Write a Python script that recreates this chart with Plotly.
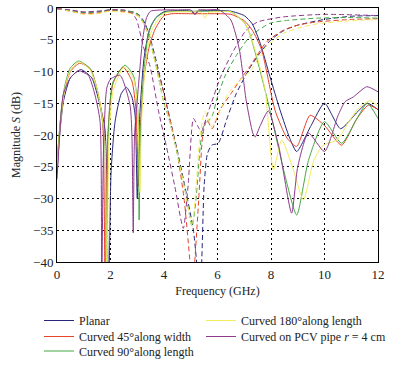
import plotly.graph_objects as go

# ---------------- data ----------------
names = ["Planar", "Curved 45°along width", "Curved 90°along length",
         "Curved 180°along length", "Curved on PCV pipe <i>r</i> = 4 cm"]
colors = ["#26267a", "#e5432b", "#45a845", "#f2ec5c", "#8e3b8c"]

# solid curves (transmission-like)
planar_s_f = [0, 0.12, 0.25, 0.5, 0.89, 1.3, 1.54, 1.79, 1.93, 2.02, 2.17, 2.4, 2.6, 2.8, 2.92, 3.0, 3.08, 3.25, 3.45, 3.7, 4.0, 4.5, 5.0, 5.16, 5.3, 6.0, 6.5, 7.0, 7.3, 7.6, 7.96, 8.34, 8.7, 8.96, 9.5, 10.0, 10.6, 11.2, 11.6, 12.0]
planar_s_v = [-26, -19, -14.5, -11, -9.7, -11, -14.2, -19, -45, -26, -17.9, -13.5, -12.5, -14, -16.9, -30, -18, -8, -3.5, -1.5, -0.6, -0.4, -0.5, -1.0, -0.5, -0.4, -0.5, -1.2, -2.5, -5.6, -10.8, -16.1, -20.5, -22.6, -18.5, -15.0, -19, -16.5, -15, -16]

c45_s_f = [0, 0.12, 0.25, 0.5, 0.85, 1.25, 1.5, 1.7, 1.8, 1.9, 2.1, 2.47, 2.8, 2.95, 3.05, 3.1, 3.25, 3.45, 3.65, 3.85, 4.0, 4.3, 5.0, 5.5, 6.0, 6.5, 7.0, 7.3, 7.65, 8.15, 8.6, 8.96, 9.46, 10.0, 10.64, 11.2, 11.64, 12.0]
c45_s_v = [-25, -18, -13.5, -10, -8.7, -9.6, -12.8, -17.5, -45, -20, -11.8, -9.3, -11.5, -16, -28, -20, -11, -6, -3.5, -2, -1.2, -0.9, -0.9, -0.9, -0.9, -1.0, -2.0, -3.5, -6.6, -16.1, -20.5, -21.8, -16.9, -18.5, -21.6, -17.5, -15.3, -16]

c90_s_f = [0, 0.1, 0.18, 0.3, 0.49, 0.8, 1.23, 1.48, 1.67, 1.79, 1.84, 1.9, 1.98, 2.1, 2.54, 2.85, 2.98, 3.04, 3.07, 3.12, 3.25, 3.4, 3.55, 3.72, 4.0, 4.5, 5.0, 5.5, 6.0, 6.5, 7.0, 7.2, 7.6, 7.96, 8.5, 8.96, 9.4, 10.0, 10.64, 11.2, 11.6, 12.0]
c90_s_v = [-24, -19, -15.3, -12.1, -9.5, -8.35, -9.5, -12.6, -16.9, -21.6, -45, -22, -14.75, -11.6, -9.0, -10.6, -13.7, -17.9, -33.4, -20, -10, -4.5, -2.5, -1.5, -0.7, -0.5, -0.5, -0.5, -0.5, -0.6, -2.3, -4, -10, -16.1, -26, -32.6, -24, -17.9, -21.3, -17.5, -15, -17.4]

c180_s_f = [0, 0.1, 0.2, 0.3, 0.5, 0.82, 1.23, 1.5, 1.7, 1.8, 1.86, 1.95, 2.1, 2.5, 2.85, 3.0, 3.1, 3.16, 3.3, 3.5, 3.7, 3.9, 4.1, 4.5, 5.0, 5.4, 5.53, 5.65, 6.0, 6.5, 7.0, 7.2, 7.5, 7.78, 8.09, 8.4, 8.8, 9.21, 9.6, 9.96, 10.46, 10.9, 11.27, 11.7, 12.0]
c180_s_v = [-25, -19.5, -15.5, -12.5, -9.8, -8.5, -9.7, -12.8, -17.5, -22, -45, -20, -13, -9.3, -11, -15, -29, -18, -9, -4, -2.3, -1.2, -0.7, -0.6, -0.6, -0.7, -1.6, -0.7, -0.6, -0.6, -2.3, -4, -8, -12.9, -25.5, -20.8, -25, -30.2, -24, -21.6, -20.8, -18, -15.8, -14.6, -15.5]

pcv_s_f = [0, 0.1, 0.24, 0.5, 0.8, 1.17, 1.42, 1.61, 1.67, 1.74, 1.86, 2.0, 2.36, 2.73, 2.8, 2.85, 2.9, 3.05, 3.2, 3.35, 3.5, 4.0, 4.5, 5.0, 5.16, 5.3, 5.6, 6.07, 6.5, 6.82, 7.07, 7.32, 7.41, 7.6, 7.9, 8.3, 8.77, 9.0, 9.4, 10.0, 10.5, 10.77, 11.08, 11.58, 12.0]
pcv_s_v = [-27, -20, -13.5, -11, -9.9, -10.6, -13.7, -17.9, -45, -22, -12.6, -11.2, -10.6, -15.3, -20, -35.4, -20, -12, -5, -1.5, -0.5, -0.3, -0.3, -0.3, -0.9, -0.3, -0.3, -0.3, -1.9, -6.6, -14.5, -19.7, -20.3, -18.5, -16.2, -22, -32.3, -25, -19.7, -22.6, -17, -14.75, -14, -12.4, -13.2]

# dashed curves (reflection-like)
planar_d_f = [0, 0.5, 1.0, 1.5, 2.0, 2.5, 2.9, 3.1, 3.3, 3.5, 3.75, 4.0, 4.25, 4.5, 4.8, 5.1, 5.35, 5.5, 5.62, 5.78, 6.03, 6.34, 6.7, 7.2, 7.6, 8.0, 8.5, 9.0, 10.0, 11.0, 12.0]
planar_d_v = [-0.1, -0.4, -0.7, -0.6, -0.3, -0.4, -0.7, -1.2, -2.5, -5, -9, -13.5, -18, -22.5, -28.5, -35, -45, -28, -23, -21.6, -21.3, -17.6, -13.5, -9.5, -7, -5, -3.5, -2.7, -1.8, -1.3, -1.2]

c45_d_f = [0, 0.5, 1.0, 1.5, 2.0, 2.5, 2.9, 3.1, 3.3, 3.5, 3.75, 4.0, 4.25, 4.5, 4.75, 4.97, 5.05, 5.3, 5.45, 5.6, 5.8, 6.1, 6.5, 6.9, 7.21, 7.84, 8.46, 9.0, 9.7, 11.0, 12.0]
c45_d_v = [-0.1, -0.5, -0.9, -0.8, -0.4, -0.6, -0.9, -1.5, -3, -5.5, -9.5, -13.5, -18, -23, -30, -40, -45, -30, -20, -17.6, -19, -16, -13.5, -11, -9.2, -5.3, -3.5, -2.7, -2.2, -1.8, -1.7]

c90_d_f = [0, 0.5, 1.0, 1.5, 2.0, 2.5, 2.9, 3.1, 3.3, 3.5, 3.75, 3.97, 4.22, 4.5, 4.8, 5.05, 5.2, 5.35, 5.47, 5.62, 5.8, 6.0, 6.3, 6.7, 7.21, 7.96, 8.5, 9.7, 11.0, 12.0]
c90_d_v = [-0.1, -0.4, -0.7, -0.6, -0.3, -0.4, -0.7, -1.3, -2.8, -5.5, -10, -14.5, -18, -23, -29, -34.4, -30, -22, -18.7, -18, -17, -14, -10.5, -7.5, -4.5, -2.4, -2.0, -1.6, -1.5, -1.6]

c180_d_f = [0, 0.5, 1.0, 1.5, 2.0, 2.5, 2.9, 3.1, 3.3, 3.5, 3.75, 3.97, 4.22, 4.5, 4.8, 5.05, 5.2, 5.35, 5.53, 5.78, 6.0, 6.4, 6.8, 7.21, 7.84, 8.46, 9.0, 9.7, 11.0, 12.0]
c180_d_v = [-0.1, -0.5, -1.0, -0.9, -0.5, -0.7, -1.0, -1.5, -3, -5.5, -10, -14.5, -18, -23, -29, -34.4, -28, -20, -16.3, -18.7, -17, -13.5, -11.5, -10, -6, -4, -3.2, -2.5, -2.0, -1.8]

pcv_d_f = [0, 0.5, 1.0, 1.5, 2.0, 2.5, 2.8, 2.98, 3.23, 3.48, 3.79, 4.1, 4.4, 4.72, 4.9, 5.1, 5.25, 5.4, 5.6, 5.85, 6.1, 6.5, 7.07, 7.5, 8.46, 10.0, 12.0]
pcv_d_v = [-0.1, -0.3, -0.6, -0.5, -0.3, -0.3, -0.8, -1.9, -6.1, -9.2, -16.1, -22, -28, -34.7, -28, -17.4, -18.5, -19.5, -17, -14, -11, -7.5, -3.5, -2.2, -1.4, -1.0, -1.2]

solid = [(planar_s_f, planar_s_v), (c45_s_f, c45_s_v), (c90_s_f, c90_s_v),
         (c180_s_f, c180_s_v), (pcv_s_f, pcv_s_v)]
dashed = [(planar_d_f, planar_d_v), (c45_d_f, c45_d_v), (c90_d_f, c90_d_v),
          (c180_d_f, c180_d_v), (pcv_d_f, pcv_d_v)]

x_ticks = [0, 2, 4, 6, 8, 10, 12]
y_ticks = [0, -5, -10, -15, -20, -25, -30, -35, -40]
x_title = "Frequency (GHz)"
y_title = "Magnitude <i>S</i> (dB)"

# ---------------- figure ----------------
FONT = "Liberation Serif"
W, H = 412, 369
L, R, T, B = 57, 34, 8, 107
fig = go.Figure()
for i in range(5):
    f, v = dashed[i]
    fig.add_trace(go.Scatter(x=f, y=v, mode="lines", showlegend=False,
                             line=dict(color=colors[i], width=1, dash="5px,3px",
                                       shape="spline", smoothing=0.6),
                             hoverinfo="skip"))

# one small legend per entry so the two-column, column-major layout matches
legend_keys = ["legend", "legend2", "legend3", "legend4", "legend5"]
legend_pos = [(39, 306), (39, 322), (39, 336.5), (201, 306), (201, 322)]
for i in range(5):
    f, v = solid[i]
    fig.add_trace(go.Scatter(x=f, y=v, mode="lines", name=names[i],
                             legend=legend_keys[i],
                             line=dict(color=colors[i], width=1,
                                       shape="spline", smoothing=0.6)))

legends = {}
for key, (px, py) in zip(legend_keys, legend_pos):
    legends[key] = dict(font=dict(family=FONT, size=12, color="#222"),
                        bgcolor="rgba(0,0,0,0)", borderwidth=0,
                        xref="container", yref="container",
                        x=px / W, y=1 - py / H,
                        xanchor="left", yanchor="top", orientation="v",
                        itemwidth=30)

axis_common = dict(showgrid=True, gridcolor="black", griddash="2px,3px",
                   gridwidth=1, showline=True, linecolor="black", linewidth=1,
                   mirror=True, ticks="", zeroline=False, automargin=False,
                   tickfont=dict(family=FONT, size=13, color="#222"))

fig.update_layout(
    width=W, height=H,
    margin=dict(l=L, r=R, t=T, b=B, autoexpand=False),
    paper_bgcolor="white", plot_bgcolor="white",
    font=dict(family=FONT, size=12, color="#222"),
    xaxis=dict(range=[0, 12], tickvals=x_ticks,
               title=dict(text=x_title, standoff=6,
                          font=dict(family=FONT, size=12)),
               **axis_common),
    yaxis=dict(range=[-40, 0], tickvals=y_ticks, **axis_common),
    **legends,
)

# y-axis title as a rotated text placed left of the tick labels
plot_w = W - L - R
fig.add_annotation(text=y_title, xref="paper", yref="paper",
                   x=(16 - L) / plot_w, y=0.5, xanchor="center",
                   yanchor="middle", textangle=-90, showarrow=False,
                   font=dict(family=FONT, size=12, color="#222"))

# remove the default page margin, then re-draw so every position is
# computed with the figure sitting at the window's top-left corner
post = ("document.body.style.margin='0';"
        "document.body.style.padding='0';"
        "var gd=document.getElementById('{plot_id}');"
        "Plotly.newPlot(gd, gd.data, gd.layout, {displayModeBar:false});")
fig.write_html("out.html", post_script=post,
               config={"displayModeBar": False})
